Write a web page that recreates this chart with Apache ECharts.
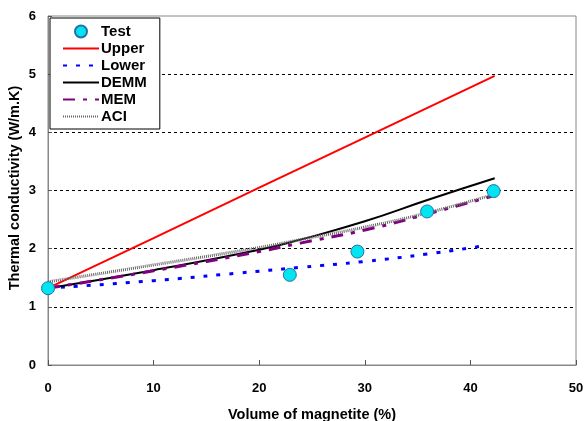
<!DOCTYPE html>
<html>
<head>
<meta charset="utf-8">
<script src="https://cdn.jsdelivr.net/npm/echarts@6/dist/echarts.min.js"></script>
<style>
    html, body {margin: 0; padding: 0; background: #fff;}
    #chart {width: 585px; height: 421px;}
</style>
</head>
<body>
<div id="chart"></div>
<script>
// values
var testX = [0, 22.9, 29.3, 35.9, 42.2];
var testY = [1.32, 1.55, 1.95, 2.64, 2.99];

var upperX = [0, 10, 20, 30, 42.3];
var upperY = [1.32, 2.18, 3.05, 3.91, 4.97];

var lowerX = [0, 10, 18, 24, 30, 36, 41.3];
var lowerY = [1.32, 1.45, 1.58, 1.68, 1.78, 1.91, 2.05];

var demmX = [0, 10, 20, 24, 30, 36, 42.3];
var demmY = [1.32, 1.63, 1.98, 2.16, 2.47, 2.84, 3.21];

var memX = [0, 10, 20, 24, 30, 36, 42];
var memY = [1.32, 1.62, 1.95, 2.1, 2.32, 2.6, 2.9];

var aciX = [0, 10, 20, 24, 30, 36, 42];
var aciY = [1.43, 1.72, 2.02, 2.16, 2.37, 2.62, 2.92];

var legendNames = ['Test', 'Upper', 'Lower', 'DEMM', 'MEM', 'ACI'];

function pairs(xs, ys) {
    var out = [];
    for (var i = 0; i < xs.length; i++) {
        out.push([xs[i], ys[i]]);
    }
    return out;
}

var font = {fontFamily: 'Liberation Sans, Arial', fontWeight: 'bold', color: '#000'};

// line series: hide the symbol that echarts puts on the legend line
var legendData = legendNames.map(function (n) {
    return n === 'Test' ? {name: n} : {name: n, itemStyle: {opacity: 0}};
});

var chart = echarts.init(document.getElementById('chart'));

var option = {
    animation: false,
    grid: {
        left: 48, right: 9, top: 16, bottom: 56,
        outerBoundsMode: 'none',
        containLabel: false,
        show: true,
        borderColor: '#888',
        borderWidth: 1
    },
    // y axis title, placed by hand (the axis name kept getting pushed to the edge)
    graphic: [{
        type: 'text',
        x: 15, y: 188,
        rotation: Math.PI / 2,
        style: {
            text: 'Thermal conductivity (W/m.K)',
            font: 'bold 14.5px Liberation Sans, Arial',
            fill: '#000',
            align: 'center',
            verticalAlign: 'middle'
        }
    }],
    legend: {
        orient: 'vertical',
        left: 50, top: 18,
        backgroundColor: '#fff',
        borderColor: '#000',
        borderWidth: 1,
        padding: [6, 13, 5, 12],
        itemGap: 2,
        itemWidth: 36,
        itemHeight: 12,
        textStyle: {fontFamily: 'Liberation Sans, Arial', fontWeight: 'bold', fontSize: 15, lineHeight: 14, color: '#000', padding: [0, 0, 0, -3]},
        data: legendData
    },
    xAxis: {
        type: 'value',
        min: 0, max: 50, interval: 10,
        name: 'Volume of magnetite (%)',
        nameLocation: 'middle',
        nameGap: 42,
        nameTextStyle: Object.assign({fontSize: 14.5}, font),
        axisLine: {lineStyle: {color: '#888'}},
        axisTick: {inside: true, length: 5, lineStyle: {color: '#555'}},
        axisLabel: Object.assign({fontSize: 13, margin: 17}, font),
        splitLine: {show: false}
    },
    yAxis: {
        type: 'value',
        min: 0, max: 6, interval: 1,
        axisLine: {show: true, lineStyle: {color: '#888'}},
        axisTick: {show: true, inside: true, length: 4, lineStyle: {color: '#555'}},
        axisLabel: Object.assign({fontSize: 13, margin: 12}, font),
        splitLine: {showMinLine: false, showMaxLine: false, lineStyle: {color: '#000', type: [3, 3], width: 1}}
    },
    series: [{
        name: 'Upper',
        type: 'line',
        symbol: 'none',
        data: pairs(upperX, upperY),
        lineStyle: {color: '#ff0000', width: 2},
        itemStyle: {color: '#ff0000'}
    }, {
        name: 'Lower',
        type: 'line',
        symbol: 'none',
        smooth: true,
        data: pairs(lowerX, lowerY),
        lineStyle: {color: '#0000ff', width: 3, type: [4, 9]},
        itemStyle: {color: '#0000ff'}
    }, {
        name: 'DEMM',
        type: 'line',
        symbol: 'none',
        smooth: true,
        data: pairs(demmX, demmY),
        lineStyle: {color: '#000', width: 2},
        itemStyle: {color: '#000'}
    }, {
        name: 'MEM',
        type: 'line',
        symbol: 'none',
        smooth: true,
        data: pairs(memX, memY),
        lineStyle: {color: '#800080', width: 3, type: [12, 8, 4, 8]},
        itemStyle: {color: '#800080'}
    }, {
        name: 'ACI',
        type: 'line',
        symbol: 'none',
        smooth: true,
        data: pairs(aciX, aciY),
        lineStyle: {color: '#666', width: 3, type: [1, 1]},
        itemStyle: {color: '#666'}
    }, {
        name: 'Test',
        type: 'scatter',
        symbol: 'circle',
        symbolSize: 13,
        z: 10,
        data: pairs(testX, testY),
        itemStyle: {color: '#00e5f0', borderColor: '#2a6fa8', borderWidth: 1, opacity: 1}
    }]
};

chart.setOption(option);
</script>
</body>
</html>
